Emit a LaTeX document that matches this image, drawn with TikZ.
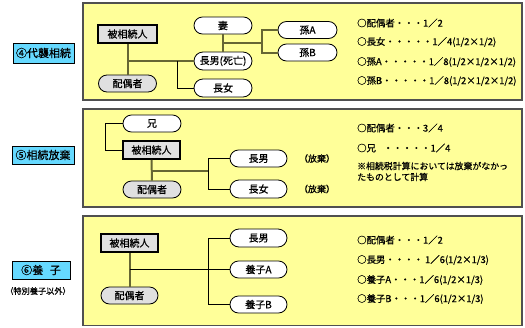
\documentclass[tikz,border=0pt]{standalone}
\usepackage{fontspec}
\usetikzlibrary{calc}
\setmainfont{Noto Sans CJK JP}[FakeBold=0.6]
\definecolor{panelfill}{RGB}{255,255,153}
\definecolor{paneldraw}{RGB}{80,80,80}
\definecolor{labelfill}{RGB}{102,217,255}
\definecolor{olive}{RGB}{102,102,51}
\definecolor{persongrey}{RGB}{224,224,224}
\tikzset{
  panel/.style={draw=paneldraw,line width=1.3pt,fill=panelfill},
  tag/.style={draw=black,line width=0.8pt,fill=labelfill,inner sep=0pt,font=\fontsize{11}{12}\selectfont},
  deceased/.style={draw=black,line width=1.6pt,fill=persongrey,minimum width=57pt,minimum height=18pt,inner sep=0pt,font=\fontsize{10}{11}\selectfont},
  pill/.style={draw=black,line width=0.8pt,fill=white,rounded corners=8.5pt,minimum width=58pt,minimum height=17pt,inner sep=0pt,font=\fontsize{10}{11}\selectfont},
  greypill/.style={pill,fill=persongrey},
  share/.style={anchor=west,inner sep=0pt,font=\fontsize{9.4}{10}\selectfont},
  note/.style={anchor=west,inner sep=0pt,font=\fontsize{8.9}{11}\selectfont,align=left},
  oline/.style={draw=olive,line width=2pt},
  bline/.style={draw=black,line width=0.9pt},
}
\begin{document}
\begin{tikzpicture}[x=1pt,y=-1pt]
\useasboundingbox (0,0) rectangle (525,327);
% panels
\draw[panel] (83,3) rectangle (522,100);
\draw[panel] (83,109) rectangle (522,207);
\draw[panel] (83,216) rectangle (522,325.5);
% tags
\node[tag,minimum width=61pt,minimum height=20pt] (L1) at (43.5,53) {④代襲相続};
\node[tag,minimum width=62pt,minimum height=18pt] (L2) at (43,155) {⑤相続放棄};
\node[tag,minimum width=58pt,minimum height=18pt] (L3) at (41,270) {⑥養\hspace{0.6em}子};
\node[inner sep=0pt,font=\fontsize{8.2}{9}\selectfont] (L3n) at (38,291) {（特別養子以外）};

% ---- panel 1
\node[deceased,minimum width=59pt] (hs1) at (127.5,34) {被相続人};
\node[greypill] (sp1) at (127.5,83.5) {配偶者};
\node[pill] (wife) at (223,25.5) {妻};
\node[pill,minimum height=18pt,rounded corners=9pt] (son1) at (223,61) {長男(死亡)};
\node[pill,minimum height=18pt,rounded corners=9pt] (dau1) at (223,88) {長女};
\node[pill,minimum width=59pt] (gA) at (307.5,30) {孫A};
\node[pill,minimum width=59pt] (gB) at (307.5,52.5) {孫B};
\coordinate (j1) at (hs1.south |- son1.west);
\coordinate (k1) at (177,61);
\coordinate (m1) at ($(wife.south)!0.5!(son1.north)$);
\draw[oline] (hs1.south) -- (sp1.north);
\draw[oline] (j1) -- (son1.west);
\draw[bline] (k1) |- (dau1.west);
\draw[oline] (wife.south) -- (son1.north);
\coordinate (br1) at (262,0);
\draw[oline] (m1) -- (br1 |- m1);
\draw[oline] (gA.west) -- (br1 |- gA.west) -- (br1 |- gB.west) -- (gB.west);
\node[share] (t11) at (357,23) {○配偶者・・・1／2};
\node[share] (t12) at (357,42) {○長女・・・・・1／4(1/2×1/2)};
\node[share] (t13) at (357,62) {○孫A・・・・・1／8(1/2×1/2×1/2)};
\node[share] (t14) at (357,81) {○孫B・・・・・1／8(1/2×1/2×1/2)};

% ---- panel 2
\node[pill] (bro) at (152,123.5) {兄};
\node[deceased] (hs2) at (151.5,150) {被相続人};
\node[greypill] (sp2) at (152,189.5) {配偶者};
\node[pill,minimum width=57pt] (son2) at (258.5,158.5) {長男};
\node[pill,minimum width=57pt,minimum height=18pt,rounded corners=9pt] (dau2) at (258.5,189) {長女};
\node[inner sep=0pt,font=\fontsize{9}{10}\selectfont] (ab1) at (317,158.5) {（放棄）};
\node[inner sep=0pt,font=\fontsize{9}{10}\selectfont] (ab2) at (317,189) {（放棄）};
\coordinate (c2) at (105,0);
\draw[bline] (bro.west) -- (c2 |- bro.west) |- (hs2.west);
\draw[oline] (hs2.south) -- (sp2.north);
\coordinate (j2) at (hs2.south |- 0,171);
\coordinate (k2) at (208,171);
\draw[oline] (j2) -- (k2);
\draw[bline] (son2.west) -- (k2 |- son2.west) -- (k2 |- dau2.west) -- (dau2.west);
\node[share] (t21) at (357,128) {○配偶者・・・3／4};
\node[share] (t22) at (357,148) {○兄\hspace{0.8em}・・・・・1／4};
\node[note] (t23) at (357,171.5) {※相続税計算においては放棄がなかっ\\たものとして計算};

% ---- panel 3
\node[deceased] (hs3) at (129.5,243) {被相続人};
\node[greypill,minimum width=57pt] (sp3) at (129.5,295.5) {配偶者};
\node[pill,minimum width=57pt,minimum height=18pt,rounded corners=9pt] (son3) at (258.5,238) {長男};
\node[pill,minimum width=57pt] (adA) at (258.5,269.5) {養子A};
\node[pill,minimum width=57pt] (adB) at (258.5,304.5) {養子B};
\draw[oline] (hs3.south) -- (sp3.north);
\coordinate (j3) at (hs3.south |- adA.west);
\draw[bline] (j3) -- (adA.west);
\coordinate (k3) at (208,0);
\draw[bline] (son3.west) -- (k3 |- son3.west) -- (k3 |- adB.west) -- (adB.west);
\node[share] (t31) at (357,240) {○配偶者・・・1／2};
\node[share] (t32) at (357,260) {○長男・・・・ 1／6(1/2×1/3)};
\node[share] (t33) at (357,280) {○養子A・・・1／6(1/2×1/3)};
\node[share] (t34) at (357,299) {○養子B・・・1／6(1/2×1/3)};
\end{tikzpicture}
\end{document}
